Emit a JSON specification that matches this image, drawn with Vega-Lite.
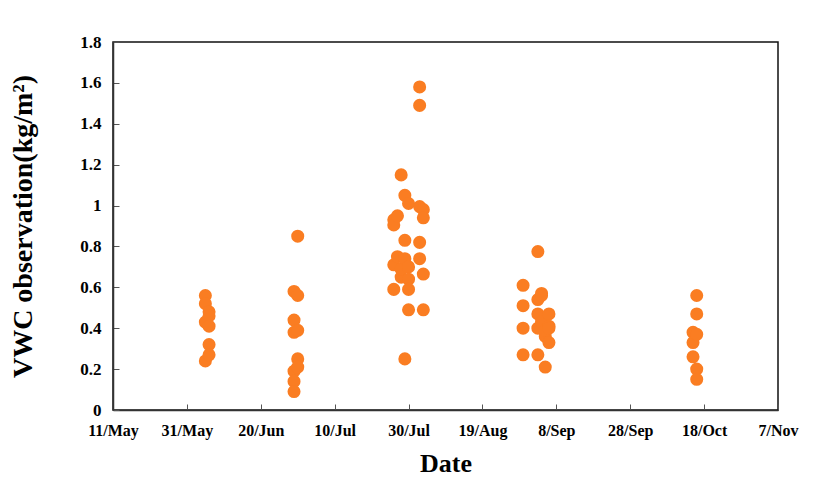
{
  "$schema": "https://vega.github.io/schema/vega-lite/v6.json",
  "autosize": {"type": "none"},
  "padding": {"left": 113, "top": 42, "right": 37, "bottom": 83},
  "width": 665,
  "height": 368,
  "background": "white",
  "config": {
    "view": {"stroke": "#111", "strokeWidth": 1.5},
    "axis": {"grid": false, "labelFont": "Liberation Serif", "titleFont": "Liberation Serif", "labelFontWeight": "bold", "titleFontWeight": "bold", "labelColor": "#000", "titleColor": "#000", "domainColor": "#333", "domainWidth": 1.5, "tickColor": "#555"}
  },
  "data": {"values": [
    {"date": "2013-06-05", "vwc": 0.56}, {"date": "2013-06-05", "vwc": 0.52}, {"date": "2013-06-05", "vwc": 0.43}, {"date": "2013-06-05", "vwc": 0.24},
    {"date": "2013-06-06", "vwc": 0.48}, {"date": "2013-06-06", "vwc": 0.46}, {"date": "2013-06-06", "vwc": 0.41}, {"date": "2013-06-06", "vwc": 0.32}, {"date": "2013-06-06", "vwc": 0.27},
    {"date": "2013-06-29", "vwc": 0.58}, {"date": "2013-06-29", "vwc": 0.44}, {"date": "2013-06-29", "vwc": 0.38}, {"date": "2013-06-29", "vwc": 0.19}, {"date": "2013-06-29", "vwc": 0.14}, {"date": "2013-06-29", "vwc": 0.09},
    {"date": "2013-06-30", "vwc": 0.85}, {"date": "2013-06-30", "vwc": 0.56}, {"date": "2013-06-30", "vwc": 0.39}, {"date": "2013-06-30", "vwc": 0.25}, {"date": "2013-06-30", "vwc": 0.21},
    {"date": "2013-07-26", "vwc": 0.93}, {"date": "2013-07-26", "vwc": 0.905}, {"date": "2013-07-26", "vwc": 0.71}, {"date": "2013-07-26", "vwc": 0.59},
    {"date": "2013-07-27", "vwc": 0.95}, {"date": "2013-07-27", "vwc": 0.75},
    {"date": "2013-07-28", "vwc": 1.15}, {"date": "2013-07-28", "vwc": 0.65}, {"date": "2013-07-28", "vwc": 0.69},
    {"date": "2013-07-29", "vwc": 1.05}, {"date": "2013-07-29", "vwc": 0.83}, {"date": "2013-07-29", "vwc": 0.74}, {"date": "2013-07-29", "vwc": 0.25},
    {"date": "2013-07-30", "vwc": 1.01}, {"date": "2013-07-30", "vwc": 0.70}, {"date": "2013-07-30", "vwc": 0.64}, {"date": "2013-07-30", "vwc": 0.59}, {"date": "2013-07-30", "vwc": 0.49},
    {"date": "2013-08-02", "vwc": 1.58}, {"date": "2013-08-02", "vwc": 1.49}, {"date": "2013-08-02", "vwc": 0.995}, {"date": "2013-08-02", "vwc": 0.82}, {"date": "2013-08-02", "vwc": 0.74},
    {"date": "2013-08-03", "vwc": 0.98}, {"date": "2013-08-03", "vwc": 0.94}, {"date": "2013-08-03", "vwc": 0.665}, {"date": "2013-08-03", "vwc": 0.49},
    {"date": "2013-08-30", "vwc": 0.61}, {"date": "2013-08-30", "vwc": 0.51}, {"date": "2013-08-30", "vwc": 0.40}, {"date": "2013-08-30", "vwc": 0.27},
    {"date": "2013-09-03", "vwc": 0.775}, {"date": "2013-09-03", "vwc": 0.54}, {"date": "2013-09-03", "vwc": 0.47}, {"date": "2013-09-03", "vwc": 0.40}, {"date": "2013-09-03", "vwc": 0.27},
    {"date": "2013-09-04", "vwc": 0.57}, {"date": "2013-09-04", "vwc": 0.56}, {"date": "2013-09-04", "vwc": 0.43},
    {"date": "2013-09-05", "vwc": 0.36}, {"date": "2013-09-05", "vwc": 0.21}, {"date": "2013-09-05", "vwc": 0.39},
    {"date": "2013-09-06", "vwc": 0.47}, {"date": "2013-09-06", "vwc": 0.41}, {"date": "2013-09-06", "vwc": 0.33}, {"date": "2013-09-06", "vwc": 0.40},
    {"date": "2013-10-15", "vwc": 0.38}, {"date": "2013-10-15", "vwc": 0.33}, {"date": "2013-10-15", "vwc": 0.26},
    {"date": "2013-10-16", "vwc": 0.56}, {"date": "2013-10-16", "vwc": 0.47}, {"date": "2013-10-16", "vwc": 0.37}, {"date": "2013-10-16", "vwc": 0.20}, {"date": "2013-10-16", "vwc": 0.15}
  ]},
  "mark": {"type": "point", "filled": true, "shape": "circle", "size": 170, "color": "#FA7D22", "opacity": 1},
  "encoding": {
    "x": {
      "field": "date", "type": "temporal",
      "scale": {"type": "utc", "domain": [{"year": 2013, "month": 5, "date": 11, "utc": true}, {"year": 2013, "month": 11, "date": 7, "utc": true}]},
      "axis": {
        "title": "Date", "titleFontSize": 26, "titlePadding": 12,
        "labelFontSize": 16, "labelPadding": 18, "tickSize": -6, "labelOverlap": false, "labelBound": false, "labelFlush": false,
        "labelExpr": "utcFormat(datum.value, '%-d/%b')",
        "values": [
          {"year": 2013, "month": 5, "date": 11, "utc": true},
          {"year": 2013, "month": 5, "date": 31, "utc": true},
          {"year": 2013, "month": 6, "date": 20, "utc": true},
          {"year": 2013, "month": 7, "date": 10, "utc": true},
          {"year": 2013, "month": 7, "date": 30, "utc": true},
          {"year": 2013, "month": 8, "date": 19, "utc": true},
          {"year": 2013, "month": 9, "date": 8, "utc": true},
          {"year": 2013, "month": 9, "date": 28, "utc": true},
          {"year": 2013, "month": 10, "date": 18, "utc": true},
          {"year": 2013, "month": 11, "date": 7, "utc": true}
        ]
      }
    },
    "y": {
      "field": "vwc", "type": "quantitative",
      "scale": {"domain": [0, 1.8], "nice": false},
      "axis": {
        "title": "VWC observation(kg/m²)", "titleFontSize": 28, "titlePadding": 42,
        "labelFontSize": 17, "labelPadding": 18, "tickSize": -6, "format": "~g",
        "values": [0, 0.2, 0.4, 0.6, 0.8, 1, 1.2, 1.4, 1.6, 1.8]
      }
    }
  }
}
